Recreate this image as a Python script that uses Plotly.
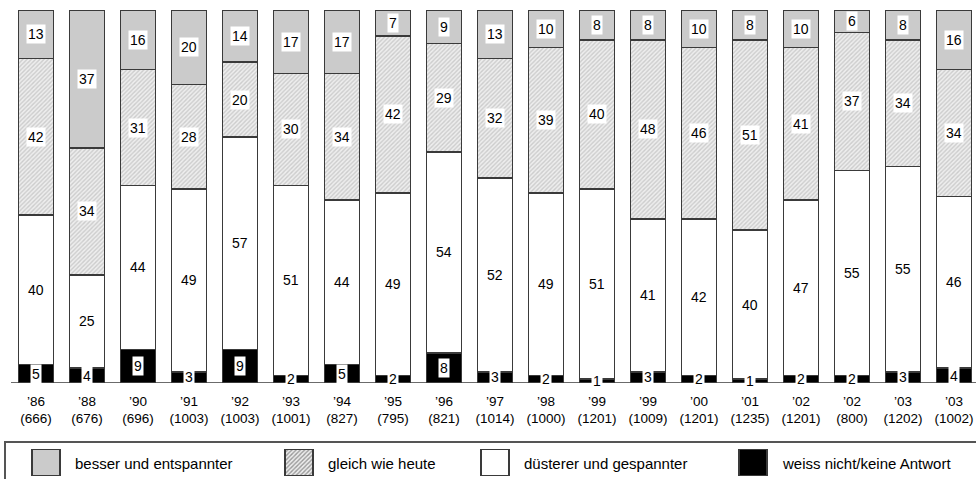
import plotly.graph_objects as go

# ---------------- data ----------------
years = ["’86", "’88", "’90", "’91", "’92", "’93", "’94", "’95", "’96", "’97",
         "’98", "’99", "’99", "’00", "’01", "’02", "’02", "’03", "’03"]
samples = ["(666)", "(676)", "(696)", "(1003)", "(1003)", "(1001)", "(827)", "(795)",
           "(821)", "(1014)", "(1000)", "(1201)", "(1009)", "(1201)", "(1235)",
           "(1201)", "(800)", "(1202)", "(1002)"]
weiss = [5, 4, 9, 3, 9, 2, 5, 2, 8, 3, 2, 1, 3, 2, 1, 2, 2, 3, 4]
duester = [40, 25, 44, 49, 57, 51, 44, 49, 54, 52, 49, 51, 41, 42, 40, 47, 55, 55, 46]
gleich = [42, 34, 31, 28, 20, 30, 34, 42, 29, 32, 39, 40, 48, 46, 51, 41, 37, 34, 34]
besser = [13, 37, 16, 20, 14, 17, 17, 7, 9, 13, 10, 8, 8, 10, 8, 10, 6, 8, 16]
series_names = ["besser und entspannter", "gleich wie heute",
                "düsterer und gespannter", "weiss nicht/keine Antwort"]

# ---------------- geometry / style ----------------
W, H = 976, 479
FONT = "Liberation Sans, Arial, sans-serif"
OUTLINE = "#3a3a3a"
GREY = "#cbcbcb"
xs = list(range(len(years)))
ticktext = [f"{y}<br>{n}" for y, n in zip(years, samples)]

def px_x(p):
    return p / W

def px_y(p):
    return 1 - p / H

hatch = dict(shape="/", fgcolor="#aaaaaa", bgcolor="#eeeeee", size=3, solidity=0.45)

fig = go.Figure()
stack = [
    (weiss, "black", None, series_names[3]),
    (duester, "white", None, series_names[2]),
    (gleich, "#eeeeee", hatch, series_names[1]),
    (besser, GREY, None, series_names[0]),
]
for vals, col, pat, name in stack:
    marker = dict(color=col, line=dict(color=OUTLINE, width=1.6))
    if pat:
        marker["pattern"] = pat
    fig.add_trace(go.Bar(x=xs, y=vals, name=name, marker=marker, width=0.68,
                         showlegend=False, hoverinfo="skip"))

# value labels in white boxes
annotations = []
base = [0] * len(xs)
for vals, *_ in stack:
    for i, v in enumerate(vals):
        annotations.append(dict(x=xs[i], y=base[i] + v / 2, xref="x", yref="y",
                                text=str(v), showarrow=False,
                                font=dict(family=FONT, size=14, color="black"),
                                bgcolor="white", borderpad=1))
        base[i] += v

# legend (manual)
sw_left = [32, 285, 481, 739]
sw_w, sw_top, sw_bot = 28, 449, 476
leg_cols = [GREY, "#eeeeee", "white", "black"]
leg_shapes = ["", "/", "", ""]
fig.add_trace(go.Bar(
    x=[l + sw_w / 2 for l in sw_left], y=[1] * 4, width=sw_w,
    xaxis="x2", yaxis="y2", showlegend=False, hoverinfo="skip",
    marker=dict(color=leg_cols, line=dict(color=OUTLINE, width=1.6),
                pattern=dict(shape=leg_shapes, fgcolor="#aaaaaa", bgcolor="#eeeeee",
                             size=3, solidity=0.45))))
for l, name in zip(sw_left, series_names):
    annotations.append(dict(x=px_x(l + 41), y=px_y(463), xref="paper", yref="paper",
                            xanchor="left", yanchor="middle", text=name, showarrow=False,
                            font=dict(family=FONT, size=15, color="black")))

shapes = [
    # baseline
    dict(type="line", xref="paper", yref="y", x0=px_x(11), x1=1.0, y0=0, y1=0,
         line=dict(color=OUTLINE, width=1.5), layer="below"),
    # legend frame
    dict(type="rect", xref="paper", yref="paper", x0=px_x(5), x1=px_x(990),
         y0=px_y(495), y1=px_y(442), line=dict(color="#555555", width=2),
         fillcolor="rgba(0,0,0,0)", layer="below"),
]

fig.update_layout(
    width=W, height=H, margin=dict(l=0, r=0, t=0, b=0),
    paper_bgcolor="white", plot_bgcolor="white",
    barmode="stack", bargap=0.3,
    font=dict(family=FONT, size=13, color="black"),
    xaxis=dict(range=[-36 / 51, 940 / 51], tickvals=xs, ticktext=ticktext,
               showgrid=False, zeroline=False, showline=False, ticks="",
               ticklabelstandoff=8,
               tickfont=dict(family=FONT, size=13.5, color="black"),
               domain=[0, 1]),
    yaxis=dict(range=[0, 100], domain=[px_y(383), px_y(10)], visible=False,
               showgrid=False, zeroline=False),
    xaxis2=dict(range=[0, W], domain=[0, 1], anchor="y2", visible=False),
    yaxis2=dict(range=[0, 1], domain=[px_y(sw_bot), px_y(sw_top)], anchor="x2",
                visible=False),
    annotations=annotations, shapes=shapes,
)

fig.write_html("out.html", config={"displayModeBar": False},
               post_script="document.body.style.margin='0';document.body.style.overflow='hidden';")
